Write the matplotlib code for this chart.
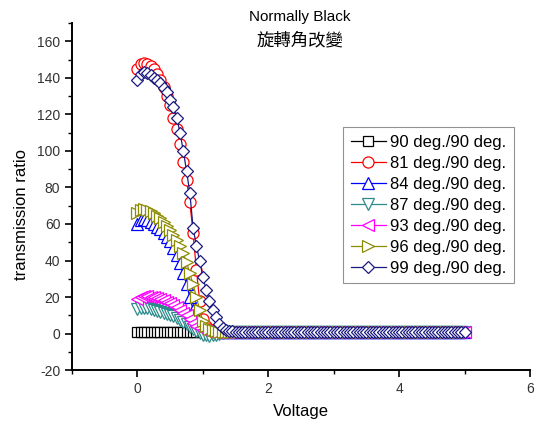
import matplotlib
matplotlib.use("Agg")
import matplotlib.pyplot as plt
from matplotlib.ticker import MultipleLocator

plt.rcParams["font.family"] = ["Liberation Sans", "Noto Sans CJK TC", "DejaVu Sans"]
plt.rcParams["axes.unicode_minus"] = False

# sampled voltages (V)
voltage = [
    0.0, 0.05, 0.1, 0.15, 0.2, 0.25, 0.3, 0.35, 0.4, 0.45,
    0.5, 0.55, 0.6, 0.65, 0.7, 0.75, 0.8, 0.85, 0.9, 0.95,
    1.0, 1.05, 1.1, 1.15, 1.2, 1.25, 1.3, 1.35, 1.4, 1.45,
    1.5, 1.55, 1.6, 1.65, 1.7, 1.75, 1.8, 1.85, 1.9, 1.95,
    2.0, 2.05, 2.1, 2.15, 2.2, 2.25, 2.3, 2.35, 2.4, 2.45,
    2.5, 2.55, 2.6, 2.65, 2.7, 2.75, 2.8, 2.85, 2.9, 2.95,
    3.0, 3.05, 3.1, 3.15, 3.2, 3.25, 3.3, 3.35, 3.4, 3.45,
    3.5, 3.55, 3.6, 3.65, 3.7, 3.75, 3.8, 3.85, 3.9, 3.95,
    4.0, 4.05, 4.1, 4.15, 4.2, 4.25, 4.3, 4.35, 4.4, 4.45,
    4.5, 4.55, 4.6, 4.65, 4.7, 4.75, 4.8, 4.85, 4.9, 4.95,
    5.0,
]

# saturated region above 1.5 V (same for every twist angle)
tail = [
    1.0, 1.0, 1.0, 1.0, 1.0, 1.0, 1.0, 1.0, 1.0, 1.0,
    1.0, 1.0, 1.0, 1.0, 1.0, 1.0, 1.0, 1.0, 1.0, 1.0,
    1.0, 1.0, 1.0, 1.0, 1.0, 1.0, 1.0, 1.0, 1.0, 1.0,
    1.0, 1.0, 1.0, 1.0, 1.0, 1.0, 1.0, 1.0, 1.0, 1.0,
    1.0, 1.0, 1.0, 1.0, 1.0, 1.0, 1.0, 1.0, 1.0, 1.0,
    1.0, 1.0, 1.0, 1.0, 1.0, 1.0, 1.0, 1.0, 1.0, 1.0,
    1.0, 1.0, 1.0, 1.0, 1.0, 1.0, 1.0, 1.0, 1.0, 1.0,
]

# 0 .. 1.5 V part of each curve
t90 = [
    1.0, 1.0, 1.0, 1.0, 1.0, 1.0, 1.0, 1.0, 1.0, 1.0,
    1.0, 1.0, 1.0, 1.0, 1.0, 1.0, 1.0, 1.0, 1.0, 1.0,
    1.0, 1.0, 1.0, 1.0, 1.0, 1.0, 1.0, 1.0, 1.0, 1.0, 1.0,
]
t81 = [
    145, 147.5, 148, 147.5, 146.5, 145, 142, 139, 135, 130,
    125, 118, 112, 104, 94, 84, 72, 55, 35, 18,
    8, 4, 2.5, 1.8, 1.4, 1.2, 1.0, 1.0, 1.0, 1.0, 1.0,
]
t84 = [
    60, 62, 62.5, 62, 61, 60, 58.5, 57, 55, 53,
    50.5, 47, 43, 38.5, 33, 27, 20, 13, 7.5, 4,
    2.5, 1.8, 1.4, 1.2, 1.0, 1.0, 1.0, 1.0, 1.0, 1.0, 1.0,
]
t87 = [
    13.5, 14, 14, 13.8, 13.5, 13, 12.5, 12, 11.5, 11,
    10.3, 9.5, 8.5, 7.5, 6.3, 5, 3.8, 2.5, 1.2, 0.2,
    -0.5, -1, -1.2, -1, -0.5, 0, 0.4, 0.7, 0.9, 1.0, 1.0,
]
t93 = [
    19, 20, 20.5, 20.5, 20.3, 20, 19.5, 19, 18.3, 17.5,
    16.5, 15.5, 14.3, 13, 11.5, 10, 8, 6, 4.3, 3,
    2, 1.5, 1.2, 1.0, 1.0, 1.0, 1.0, 1.0, 1.0, 1.0, 1.0,
]
t96 = [
    66, 67.5, 68, 67.5, 67, 66, 64.5, 63, 61, 59,
    56.5, 54, 51, 48, 44, 39, 33, 27, 20, 13,
    7, 4, 2.5, 1.8, 1.3, 1.1, 1.0, 1.0, 1.0, 1.0, 1.0,
]
t99 = [
    139, 142, 143, 142.5, 141.5, 140, 139, 137, 134.5, 132,
    128, 124, 118, 110, 100, 89, 77, 58, 48, 40,
    31, 24, 18, 13, 9, 5, 3, 2, 1.5, 1.2, 1.0,
]

labels = [
    "90 deg./90 deg.", "81 deg./90 deg.", "84 deg./90 deg.", "87 deg./90 deg.",
    "93 deg./90 deg.", "96 deg./90 deg.", "99 deg./90 deg.",
]
series = [t90, t81, t84, t87, t93, t96, t99]
colors = ["#000000", "#ff0000", "#0000ff", "#2e8b8b", "#ff00ff", "#8c8c00", "#1a1a80"]
markers = ["s", "o", "^", "v", "<", ">", "D"]
sizes = [7, 8, 8, 8, 8, 8, 6.5]

fig = plt.figure(figsize=(5.38, 4.25), dpi=100)
ax = fig.add_axes([0.134, 0.129, 0.851, 0.817])

for head, lab, col, mk, ms in zip(series, labels, colors, markers, sizes):
    ax.plot(voltage, head + tail, color=col, marker=mk, ms=ms, mfc="white",
            mec=col, mew=0.9, lw=0.9, label=lab)

ax.set_xlim(-1, 6)
ax.set_ylim(-20, 170)
ax.xaxis.set_major_locator(MultipleLocator(2))
ax.xaxis.set_minor_locator(MultipleLocator(1))
ax.yaxis.set_minor_locator(MultipleLocator(10))
ax.set_yticks([-20, 0, 20, 40, 60, 80, 100, 120, 140, 160])
ax.tick_params(which="major", direction="out", length=5, width=1.2, labelsize=10,
               labelcolor="#333333")
ax.tick_params(which="minor", direction="out", length=3, width=1.0)
ax.spines["top"].set_visible(False)
ax.spines["right"].set_visible(False)
ax.spines["left"].set_linewidth(1.4)
ax.spines["bottom"].set_linewidth(1.4)

ax.set_xlabel("Voltage", fontsize=12, labelpad=6)
ax.set_ylabel("transmission ratio", fontsize=12)
ax.yaxis.set_label_coords(-0.094, 0.447)
fig.text(0.558, 0.96, "Normally Black", ha="center", va="center", fontsize=11)
fig.text(0.558, 0.906, "旋轉角改變", ha="center", va="center", fontsize=12.5,
         family=["Noto Sans CJK TC", "DejaVu Sans"])

leg = ax.legend(loc="upper right", bbox_to_anchor=(0.965, 0.70), fontsize=12,
                frameon=True, fancybox=False, edgecolor="#777777",
                handlelength=2.1, handletextpad=0.25, labelspacing=0.36,
                borderpad=0.45, borderaxespad=0)
leg.get_frame().set_linewidth(0.8)

fig.savefig("out.png", dpi=100)
